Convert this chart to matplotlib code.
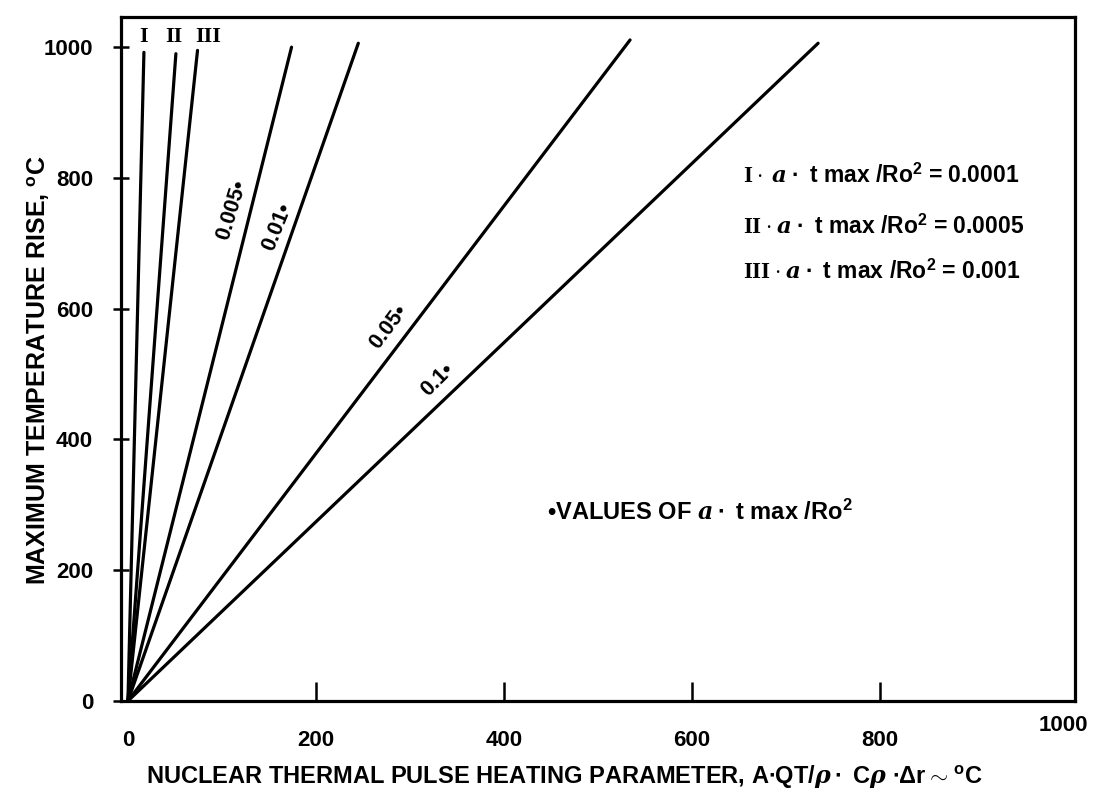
import matplotlib
matplotlib.use("Agg")
import matplotlib.pyplot as plt

plt.rcParams['font.family'] = ['Liberation Sans', 'DejaVu Sans']
plt.rcParams['font.weight'] = 'bold'
plt.rcParams['axes.labelweight'] = 'bold'
plt.rcParams['mathtext.fontset'] = 'custom'
plt.rcParams['mathtext.rm'] = 'Liberation Sans:bold'
plt.rcParams['mathtext.bf'] = 'Liberation Sans:bold'
plt.rcParams['mathtext.it'] = 'DejaVu Serif:italic'
plt.rcParams['mathtext.cal'] = 'Liberation Serif:bold'

# curve end points (x, y), every line starts at the origin
curve_names = ['I', 'II', 'III', '0.005', '0.01', '0.05', '0.1']
x_end = [17, 51, 74, 174, 245, 534, 734]
y_end = [992, 990, 995, 1000, 1006, 1011, 1006]

x_ticks = [0, 200, 400, 600, 800]
y_ticks = [0, 200, 400, 600, 800, 1000]

legend_rows = [r'$\mathcal{I}\cdot\,\mathit{a}\bullet$ t max /Ro$^{2}$ = 0.0001',
               r'$\mathcal{II}\cdot\mathit{a}\bullet$ t max /Ro$^{2}$ = 0.0005',
               r'$\mathcal{III}\cdot\mathit{a}\bullet$ t max /Ro$^{2}$ = 0.001']

fig = plt.figure(figsize=(10.99, 7.98), dpi=100)
ax = fig.add_axes([0.110, 0.1216, 0.868, 0.857])

for i in range(len(curve_names)):
    ax.plot([0, x_end[i]], [0, y_end[i]], color='black', lw=2.3, solid_capstyle='round')

ax.set_xlim(-7.5, 1007)
ax.set_ylim(0, 1046)
ax.set_xticks(x_ticks)
ax.set_yticks(y_ticks)
ax.tick_params(axis='x', direction='in', length=14, width=1.8, pad=21, labelsize=16)
ax.tick_params(axis='y', direction='inout', length=12, width=1.8, pad=14, labelsize=16)
for s in ax.spines.values():
    s.set_linewidth(2.3)

# "1000" sits a bit higher than the other x labels
ax.text(995, -38, '1000', ha='center', va='center', fontsize=16, clip_on=False)

ax.set_xlabel(r'NUCLEAR THERMAL PULSE HEATING PARAMETER, A$\bullet$QT/$\rho\bullet$ C$\rho$ $\bullet\Delta$r$\sim^{\mathrm{o}}$C',
              fontsize=17)
ax.xaxis.set_label_coords(0.465, -0.092)
ax.set_ylabel(r'MAXIMUM TEMPERATURE RISE, $^{\mathrm{o}}$C', fontsize=18)
ax.yaxis.set_label_coords(-0.072, 0.484)

# roman numerals at the top of the steep curves
roman_x = [17, 49, 85]
for name, xr in zip(curve_names[:3], roman_x):
    ax.text(xr, 1015, name, family='Liberation Serif', fontsize=16, ha='center', va='center')

# labels written along the other curves
lab_x = [111, 159, 277, 329]
lab_y = [751, 725, 572, 491]
lab_rot = [73, 68, 53, 45]
for name, xl, yl, r in zip(curve_names[3:], lab_x, lab_y, lab_rot):
    ax.text(xl, yl, name + '•', rotation=r, fontsize=15.5, ha='center', va='center',
            rotation_mode='anchor')

for row, yy in zip(legend_rows, [803, 726, 656]):
    ax.text(654, yy, row, fontsize=16.5, ha='left', va='center')

ax.text(446, 289, r'•VALUES OF $\mathit{a}\bullet$ t max /Ro$^{2}$', fontsize=17, ha='left', va='center')

fig.savefig('out.png', dpi=100)
